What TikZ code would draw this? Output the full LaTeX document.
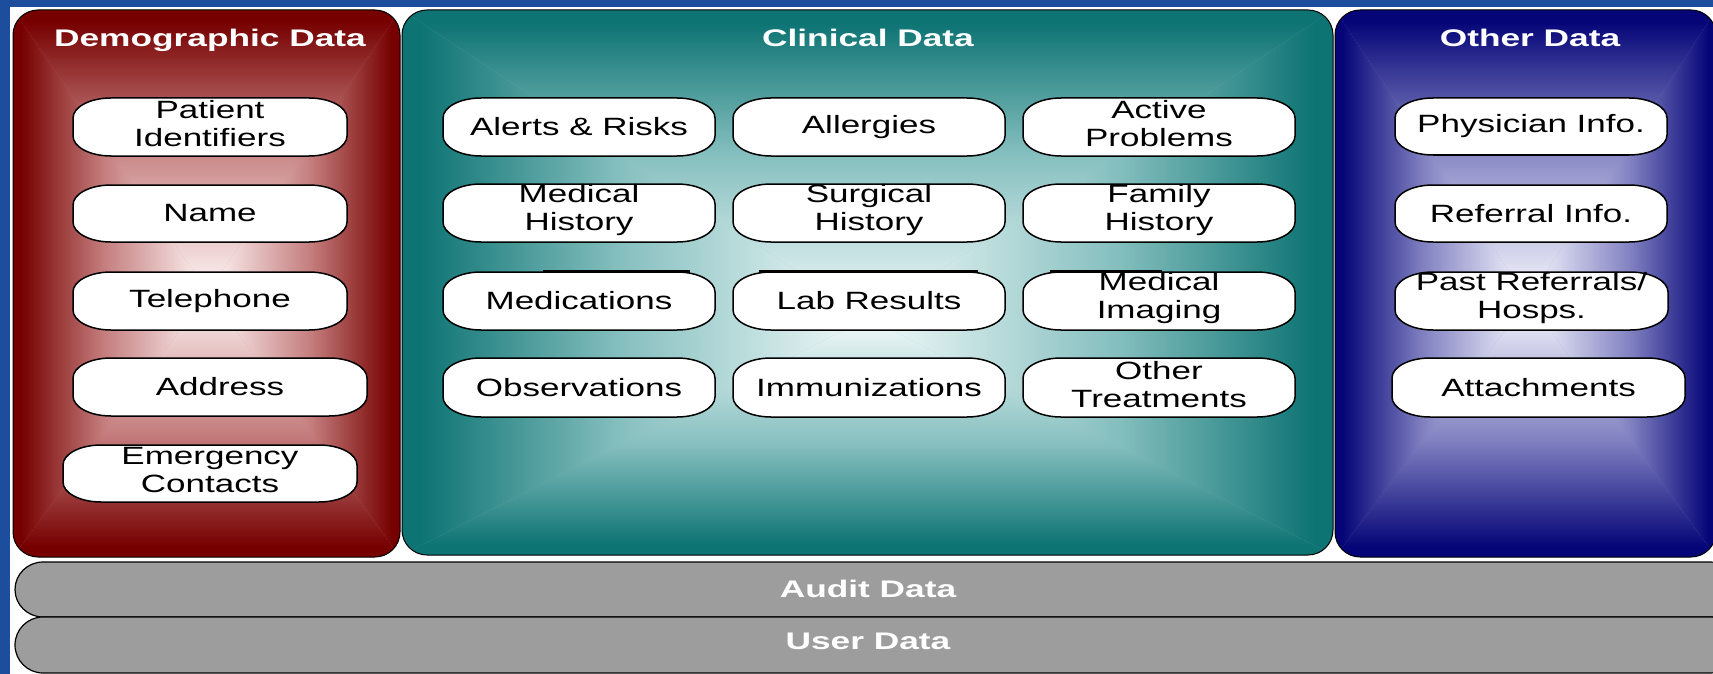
\documentclass[tikz,border=0pt]{standalone}
\usepackage{fontspec}
\setmainfont{Liberation Sans}
\newfontfamily\pillfont[FakeStretch=1.4]{Liberation Sans}
\newfontfamily\headfont[FakeStretch=1.47]{Liberation Sans}

% panel colour ramps: edge -> middle -> centre
\definecolor{pEdge}{HTML}{780000}
\definecolor{pMid}{HTML}{C27A7A}
\definecolor{pCtr}{HTML}{FFF6F6}
\definecolor{redEdge}{HTML}{760000}
\definecolor{redMid}{HTML}{C47C7C}
\definecolor{redCtr}{HTML}{FFF6F6}
\definecolor{tealEdge}{HTML}{0D7373}
\definecolor{tealMid}{HTML}{84BEBE}
\definecolor{tealCtr}{HTML}{F2FAFA}
\definecolor{navyEdge}{HTML}{050578}
\definecolor{navyMid}{HTML}{8282C2}
\definecolor{navyCtr}{HTML}{F8F8FF}
\definecolor{slide}{HTML}{1D4D9D}
\definecolor{bar}{HTML}{9D9D9D}

% edge-to-centre ramps used for the four wedges of a panel
\pgfdeclarehorizontalshading[pEdge,pMid,pCtr]{panelL}{100bp}{%
  color(0bp)=(pEdge); color(25bp)=(pEdge); color(27bp)=(pEdge);
  color(48bp)=(pMid); color(75bp)=(pCtr); color(100bp)=(pCtr)}
\pgfdeclareverticalshading[pEdge,pMid,pCtr]{panelT}{100bp}{%
  color(0bp)=(pCtr); color(25bp)=(pCtr); color(52bp)=(pMid);
  color(73bp)=(pEdge); color(75bp)=(pEdge); color(100bp)=(pEdge)}

% rectangular gradient inside a rounded panel: #1..#4 box, #5,#6 bright centre
\newcommand\shadepanel[6]{%
  \begin{scope}
    \clip[rounded corners=25pt] (#1,#2) rectangle (#3,#4);
    \fill[pMid] (#1,#2) rectangle (#3,#4);
    \shade[shading=panelT] (#1,#2) -- (#3,#2) -- (#5,#6) -- cycle;
    \shade[shading=panelT,shading angle=180] (#1,#4) -- (#3,#4) -- (#5,#6) -- cycle;
    \shade[shading=panelL] (#1,#2) -- (#1,#4) -- (#5,#6) -- cycle;
    \shade[shading=panelL,shading angle=180] (#3,#2) -- (#3,#4) -- (#5,#6) -- cycle;
  \end{scope}
  \draw[panelline] (#1,#2) rectangle (#3,#4);}

% white capsule with elliptical corners and its label:
% [label lift], name, x0, y0, x1, y1, text
\newcommand\pill[7][0]{%
  \draw[pillline] (#3+38,#4) -- (#5-38,#4)
    arc[start angle=-90,end angle=0,x radius=38,y radius=20] -- (#5,#6-20)
    arc[start angle=0,end angle=90,x radius=38,y radius=20] -- (#3+38,#6)
    arc[start angle=90,end angle=180,x radius=38,y radius=20] -- (#3,#4+20)
    arc[start angle=180,end angle=270,x radius=38,y radius=20] -- cycle;
  \node[pilltext,yshift=#1pt] (#2) at ({(#3+#5)/2},{(#4+#6)/2}) {#7};}

% long grey layer with half-elliptical ends: name, y0, y1, text, baseline
\newcommand\layer[5]{%
  \draw[barline] (43,#2) -- (1710,#2)
    arc[start angle=-90,end angle=90,x radius=28,y radius={(#3-#2)/2}] -- (43,#3)
    arc[start angle=90,end angle=270,x radius=28,y radius={(#3-#2)/2}] -- cycle;
  \node[headtext,anchor=base] (#1) at (868,#5) {#4};}

\tikzset{
  panelline/.style={draw=black,line width=1pt,rounded corners=25pt},
  pillline/.style={draw=black,line width=1.5pt,fill=white},
  pilltext/.style={font=\pillfont\fontsize{25}{28}\selectfont,align=center,
    inner sep=0pt,text=black},
  headtext/.style={font=\headfont\bfseries\fontsize{24}{28}\selectfont,
    text=white,inner sep=0pt},
  barline/.style={draw=black,line width=1.2pt,fill=bar},
  shadowrule/.style={draw=black,line width=3pt},
}

\begin{document}
\begin{tikzpicture}[x=1pt,y=-1pt]
  \useasboundingbox (0,0) rectangle (1713,674);
  % slide backdrop and white canvas
  \fill[slide] (0,0) rectangle (1713,674);
  \fill[white] (10,7) rectangle (1713,674);

  % the three data panels
  \begin{scope}
    \colorlet{pEdge}{redEdge}\colorlet{pMid}{redMid}\colorlet{pCtr}{redCtr}
    \shadepanel{13}{10}{400}{557}{208}{292}
  \end{scope}
  \begin{scope}
    \colorlet{pEdge}{tealEdge}\colorlet{pMid}{tealMid}\colorlet{pCtr}{tealCtr}
    \shadepanel{402}{10}{1333}{555}{868}{318}
  \end{scope}
  \begin{scope}
    \colorlet{pEdge}{navyEdge}\colorlet{pMid}{navyMid}\colorlet{pCtr}{navyCtr}
    \shadepanel{1335}{10}{1716}{557}{1528}{300}
  \end{scope}

  % panel headings
  \node[headtext,anchor=base] (demohead) at (210,47) {Demographic Data};
  \node[headtext,anchor=base] (clinhead) at (868,47) {Clinical Data};
  \node[headtext,anchor=base] (otherhead) at (1530,47) {Other Data};

  % demographic items
  \pill[3]{pid}{73}{98}{347}{156}{Patient\\Identifiers}
  \pill{name}{73}{185}{347}{242}{Name}
  \pill{tel}{73}{272}{347}{330}{Telephone}
  \pill{addr}{73}{358}{367}{416}{Address}
  \pill[3]{emerg}{63}{445}{357}{502}{Emergency\\Contacts}

  % clinical items
  \pill{alerts}{443}{98}{715}{156}{Alerts \& Risks}
  \pill{allerg}{733}{98}{1005}{156}{Allergies}
  \pill[3]{active}{1023}{98}{1295}{156}{Active\\Problems}
  \pill[3]{medhist}{443}{184}{715}{242}{Medical\\History}
  \pill[3]{surg}{733}{184}{1005}{242}{Surgical\\History}
  \pill[3]{family}{1023}{184}{1295}{242}{Family\\History}
  \pill{meds}{443}{272}{715}{330}{Medications}
  \pill{lab}{733}{272}{1005}{330}{Lab Results}
  \pill[3]{imaging}{1023}{272}{1295}{330}{Medical\\Imaging}
  \pill{obs}{443}{358}{715}{417}{Observations}
  \pill{immun}{733}{358}{1005}{417}{Immunizations}
  \pill[3]{othertr}{1023}{358}{1295}{417}{Other\\Treatments}

  % heavy rules along the top of the third clinical row
  \draw[shadowrule] (543,271) -- (690,271);
  \draw[shadowrule] (759,271) -- (978,271);
  \draw[shadowrule] (1050,271) -- (1162,271);

  % other items
  \pill{phys}{1395}{98}{1667}{155}{Physician Info.}
  \pill{refer}{1395}{185}{1667}{242}{Referral Info.}
  \pill[3]{past}{1395}{272}{1668}{330}{Past Referrals/\\Hosps.}
  \pill{attach}{1392}{358}{1685}{417}{Attachments}

  % bottom layers
  \layer{audit}{562}{617}{Audit Data}{597}
  \layer{user}{617}{673}{User Data}{649}
\end{tikzpicture}
\end{document}
